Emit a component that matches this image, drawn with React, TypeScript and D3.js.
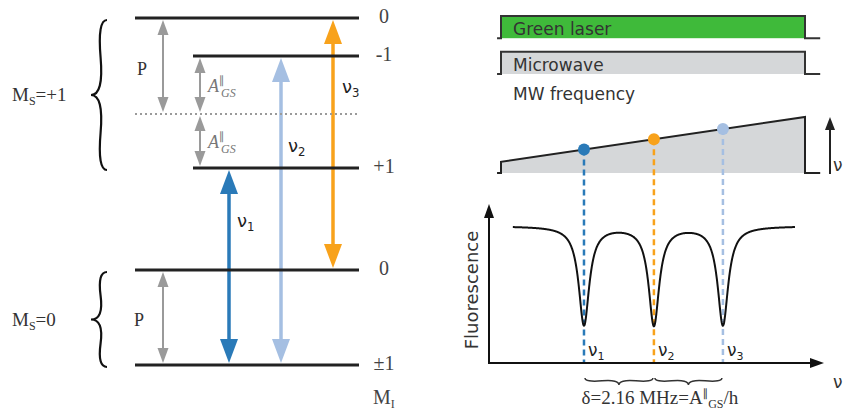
import React from "react";
import * as d3 from "d3";

// ---------- Left panel data (energy levels, arbitrary units) ----------
const levelNames = ["±1", "0", "+1", "-1", "0"];
const levelEnergies = [0, 9.5, 19.7, 30.9, 34.7];
const levelIsHyperfine = [false, false, true, true, false];
const centerEnergy = 25.1; // unsplit Ms=+1 level (dotted)

const transitionNames = ["1", "2", "3"];
const transitionFrom = [0, 0, 9.5];
const transitionTo = [19.7, 30.9, 34.7];
const transitionColors = ["#2a7ab8", "#a5bfe2", "#f8a21b"];

const quadrupoleFrom = [34.7, 9.5];
const quadrupoleTo = [centerEnergy, 0];
const hyperfineFrom = [30.9, centerEnergy];
const hyperfineTo = [centerEnergy, 19.7];

const spinGroupLabels = ["+1", "0"];
const spinGroupLow = [19.7, 0];
const spinGroupHigh = [34.7, 9.5];

// ---------- Right panel data ----------
const pulseNames = ["Green laser", "Microwave"];
const pulseFills = ["#3fba3a", "#d5d7d9"];
const rampStart = 0.2;
const rampEnd = 1.0;
const dipFreqs = [27.3, 50.3, 73.0];
const dipDepth = 0.72;
const dipWidth = 2.1;
const curveStart = 3.9;
const curveEnd = 96.7;

const SERIF = "'Liberation Serif', 'Times New Roman', serif";
const SANS = "'DejaVu Sans', Verdana, sans-serif";

function curlyBrace(x1: number, y1: number, x2: number, y2: number, w: number, q: number) {
  let dx = x1 - x2;
  let dy = y1 - y2;
  const len = Math.sqrt(dx * dx + dy * dy);
  dx /= len;
  dy /= len;
  const qx1 = x1 + q * w * dy;
  const qy1 = y1 - q * w * dx;
  const qx2 = x1 - 0.25 * len * dx + (1 - q) * w * dy;
  const qy2 = y1 - 0.25 * len * dy - (1 - q) * w * dx;
  const tx1 = x1 - 0.5 * len * dx + w * dy;
  const ty1 = y1 - 0.5 * len * dy - w * dx;
  const qx3 = x2 + q * w * dy;
  const qy3 = y2 - q * w * dx;
  const qx4 = x1 - 0.75 * len * dx + (1 - q) * w * dy;
  const qy4 = y1 - 0.75 * len * dy - (1 - q) * w * dx;
  return `M ${x1} ${y1} Q ${qx1} ${qy1} ${qx2} ${qy2} T ${tx1} ${ty1} M ${x2} ${y2} Q ${qx3} ${qy3} ${qx4} ${qy4} T ${tx1} ${ty1}`;
}

function DoubleArrow(props: {
  x: number; yTop: number; yBot: number; color: string; width: number; headLen: number; headW: number;
}) {
  const { x, yTop, yBot, color, width, headLen, headW } = props;
  const hw = headW / 2;
  return (
    <g>
      <line x1={x} x2={x} y1={yTop + headLen * 0.7} y2={yBot - headLen * 0.7} stroke={color} strokeWidth={width} />
      <path d={`M ${x} ${yTop} L ${x + hw} ${yTop + headLen} L ${x - hw} ${yTop + headLen} Z`} fill={color} />
      <path d={`M ${x} ${yBot} L ${x + hw} ${yBot - headLen} L ${x - hw} ${yBot - headLen} Z`} fill={color} />
    </g>
  );
}

function Nu(props: { x: number; y: number; sub: string; size: number; color?: string }) {
  const { x, y, sub, size, color } = props;
  return (
    <text x={x} y={y} fontFamily={SANS} fontSize={size} fill={color || "#222"}>
      ν
      <tspan fontSize={size * 0.65} dy={size * 0.22}>{sub}</tspan>
    </text>
  );
}

export default function App() {
  // ---- left scales
  const yE = d3.scaleLinear().domain([0, 34.7]).range([365, 18]);
  const xLongStart = 135;
  const xShortStart = 193;
  const xLevelEnd = 359;
  const xTrans = d3.scalePoint<string>().domain(transitionNames).range([229, 333]);

  // ---- right scales
  const xF = d3.scaleLinear().domain([0, 100]).range([501, 805]);
  const pulseY = d3.scaleBand<string>().domain(pulseNames).range([16, 74]).paddingInner(0.38);
  const yR = d3.scaleLinear().domain([0, 1]).range([173, 117]);
  const yFl = d3.scaleLinear().domain([0, 1]).range([363, 226]);

  const rampAt = (f: number) => rampStart + ((rampEnd - rampStart) * f) / 100;

  const curveXs = d3.range(curveStart, curveEnd + 0.001, 0.1);
  const fluor = (f: number) =>
    1 - d3.sum(dipFreqs, (c) => (dipDepth * dipWidth * dipWidth) / ((f - c) * (f - c) + dipWidth * dipWidth));
  const curvePath = d3
    .line<number>()
    .x((f) => xF(f))
    .y((f) => yFl(fluor(f)))(curveXs) as string;

  const rampOutline =
    `M ${xF(-1.3)} ${yR(0)} L ${xF(0)} ${yR(0)} L ${xF(0)} ${yR(rampStart)} L ${xF(100)} ${yR(rampEnd)} ` +
    `L ${xF(100)} ${yR(0)} L ${xF(105)} ${yR(0)}`;

  const axisX0 = 489;
  const axisY0 = 363;

  return (
    <svg width={843} height={412} style={{ position: "absolute", left: 0, top: 0, background: "#fff" }}>
      {/* ===================== LEFT PANEL ===================== */}
      {transitionNames.map((n, i) => (
        <DoubleArrow
          key={n}
          x={xTrans(n) as number}
          yTop={yE(transitionTo[i]) + 2}
          yBot={yE(transitionFrom[i]) - 2}
          color={transitionColors[i]}
          width={3.5}
          headLen={24}
          headW={18}
        />
      ))}
      {quadrupoleFrom.map((e, i) => (
        <DoubleArrow key={"p" + i} x={163} yTop={yE(e) + 2} yBot={yE(quadrupoleTo[i]) - 2}
          color="#9a9a9a" width={2} headLen={15} headW={11} />
      ))}
      {hyperfineFrom.map((e, i) => (
        <DoubleArrow key={"a" + i} x={200} yTop={yE(e) + 2} yBot={yE(hyperfineTo[i]) - 2}
          color="#9a9a9a" width={2} headLen={15} headW={11} />
      ))}
      <line x1={xLongStart} x2={xLevelEnd} y1={yE(centerEnergy)} y2={yE(centerEnergy)}
        stroke="#9a9a9a" strokeWidth={2} strokeDasharray="2,3" />
      {levelEnergies.map((e, i) => (
        <line key={"l" + i} x1={levelIsHyperfine[i] ? xShortStart : xLongStart} x2={xLevelEnd}
          y1={yE(e)} y2={yE(e)} stroke="#222" strokeWidth={3} />
      ))}
      {levelEnergies.map((e, i) => (
        <text key={"ll" + i} x={384} y={yE(e) + 5} textAnchor="middle" fontFamily={SERIF}
          fontSize={20} fill="#444">{levelNames[i]}</text>
      ))}
      <text x={373} y={404} fontFamily={SERIF} fontSize={20} fill="#444">
        M<tspan fontSize={12} dy={4}>I</tspan>
      </text>
      {quadrupoleFrom.map((e, i) => (
        <text key={"pl" + i} x={i === 0 ? 137 : 134} y={(yE(e) + yE(quadrupoleTo[i])) / 2 + (i === 0 ? 9 : 8)}
          fontFamily={SERIF} fontSize={18} fill="#333">P</text>
      ))}
      {hyperfineFrom.map((e, i) => {
        const ym = (yE(e) + yE(hyperfineTo[i])) / 2 + 7;
        return (
          <g key={"al" + i} fill="#777">
            <text x={208} y={ym} fontSize={18} fontStyle="italic" fontFamily={SERIF}>A</text>
            <text x={219} y={ym - 8} fontSize={11} fontFamily={SANS}>∥</text>
            <text x={221} y={ym + 5} fontSize={12} fontStyle="italic" fontFamily={SERIF}>GS</text>
          </g>
        );
      })}
      <Nu x={237} y={227} sub="1" size={18} />
      <Nu x={288} y={152} sub="2" size={18} />
      <Nu x={342} y={93} sub="3" size={18} />
      {spinGroupLabels.map((lab, i) => {
        const yTop = yE(spinGroupHigh[i]) + 2;
        const yBot = yE(spinGroupLow[i]) + 2;
        return (
          <g key={"sg" + i}>
            <path d={curlyBrace(107, yTop, 107, yBot, 16, 0.6)} fill="none" stroke="#111" strokeWidth={2.2} />
            <text x={12} y={(yTop + yBot) / 2 + 6} fontFamily={SERIF} fontSize={19} fill="#333">
              M<tspan fontSize={12} dy={4}>S</tspan>
              <tspan dy={-4}>={lab}</tspan>
            </text>
          </g>
        );
      })}

      {/* ===================== RIGHT PANEL ===================== */}
      {pulseNames.map((n, i) => {
        const top = pulseY(n) as number;
        const bot = top + pulseY.bandwidth();
        return (
          <g key={n}>
            <rect x={xF(0)} y={top} width={xF(100) - xF(0)} height={bot - top} fill={pulseFills[i]} />
            <path
              d={`M ${xF(-1.3)} ${bot} L ${xF(0)} ${bot} L ${xF(0)} ${top} L ${xF(100)} ${top} L ${xF(100)} ${bot} L ${xF(105)} ${bot}`}
              fill="none" stroke="#333" strokeWidth={2} />
            <text x={513} y={bot - 3} fontFamily={SANS} fontSize={17} fill="#333">{n}</text>
          </g>
        );
      })}
      <path d={`M ${xF(0)} ${yR(0)} L ${xF(0)} ${yR(rampStart)} L ${xF(100)} ${yR(rampEnd)} L ${xF(100)} ${yR(0)} Z`}
        fill="#d5d7d9" />
      <path d={rampOutline} fill="none" stroke="#222" strokeWidth={2} />
      <text x={513} y={100} fontFamily={SANS} fontSize={17} fill="#333">MW frequency</text>
      <line x1={830} x2={830} y1={174} y2={128} stroke="#222" strokeWidth={2} />
      <path d={`M 830 117 L 835 130 L 825 130 Z`} fill="#222" />
      <text x={833} y={171} fontFamily={SANS} fontSize={17} fill="#333">ν</text>

      {dipFreqs.map((f, i) => {
        const col = [transitionColors[0], transitionColors[2], transitionColors[1]][i];
        return (
          <g key={"d" + i}>
            <line x1={xF(f)} x2={xF(f)} y1={yR(rampAt(f))} y2={axisY0} stroke={col} strokeWidth={2.5}
              strokeDasharray="6,4" />
            <circle cx={xF(f)} cy={yR(rampAt(f))} r={6} fill={col} />
          </g>
        );
      })}

      <line x1={axisX0} x2={axisX0} y1={axisY0 + 1} y2={217} stroke="#111" strokeWidth={2} />
      <path d={`M ${axisX0} 204 L ${axisX0 + 5} 218 L ${axisX0 - 5} 218 Z`} fill="#111" />
      <line x1={axisX0 - 1} x2={812} y1={axisY0} y2={axisY0} stroke="#111" strokeWidth={2} />
      <path d={`M 824 ${axisY0} L 810 ${axisY0 - 5} L 810 ${axisY0 + 5} Z`} fill="#111" />
      <text transform={`translate(478, 290) rotate(-90)`} textAnchor="middle" fontFamily={SANS} fontSize={18}
        fill="#333">Fluorescence</text>
      <text x={833} y={388} fontFamily={SANS} fontSize={17} fill="#333">ν</text>

      <path d={curvePath} fill="none" stroke="#111" strokeWidth={2} />

      {dipFreqs.map((f, i) => (
        <Nu key={"nl" + i} x={xF(f) + 4} y={356} sub={String(i + 1)} size={17} />
      ))}

      {dipFreqs.slice(0, 2).map((f, i) => (
        <path key={"b" + i} d={curlyBrace(xF(f) + 1, 378, xF(dipFreqs[i + 1]) - 1, 378, 7, 0.6)} fill="none"
          stroke="#333" strokeWidth={1.5} />
      ))}
      <text x={xF(dipFreqs[1]) + 6} y={404} textAnchor="middle" fontFamily={SERIF} fontSize={19} fill="#333">
        δ=2.16 MHz=A<tspan fontSize={11} dy={-7} fontFamily={SANS}>∥</tspan>
        <tspan fontSize={12} dy={11}>GS</tspan>
        <tspan dy={-4}>/h</tspan>
      </text>
    </svg>
  );
}
